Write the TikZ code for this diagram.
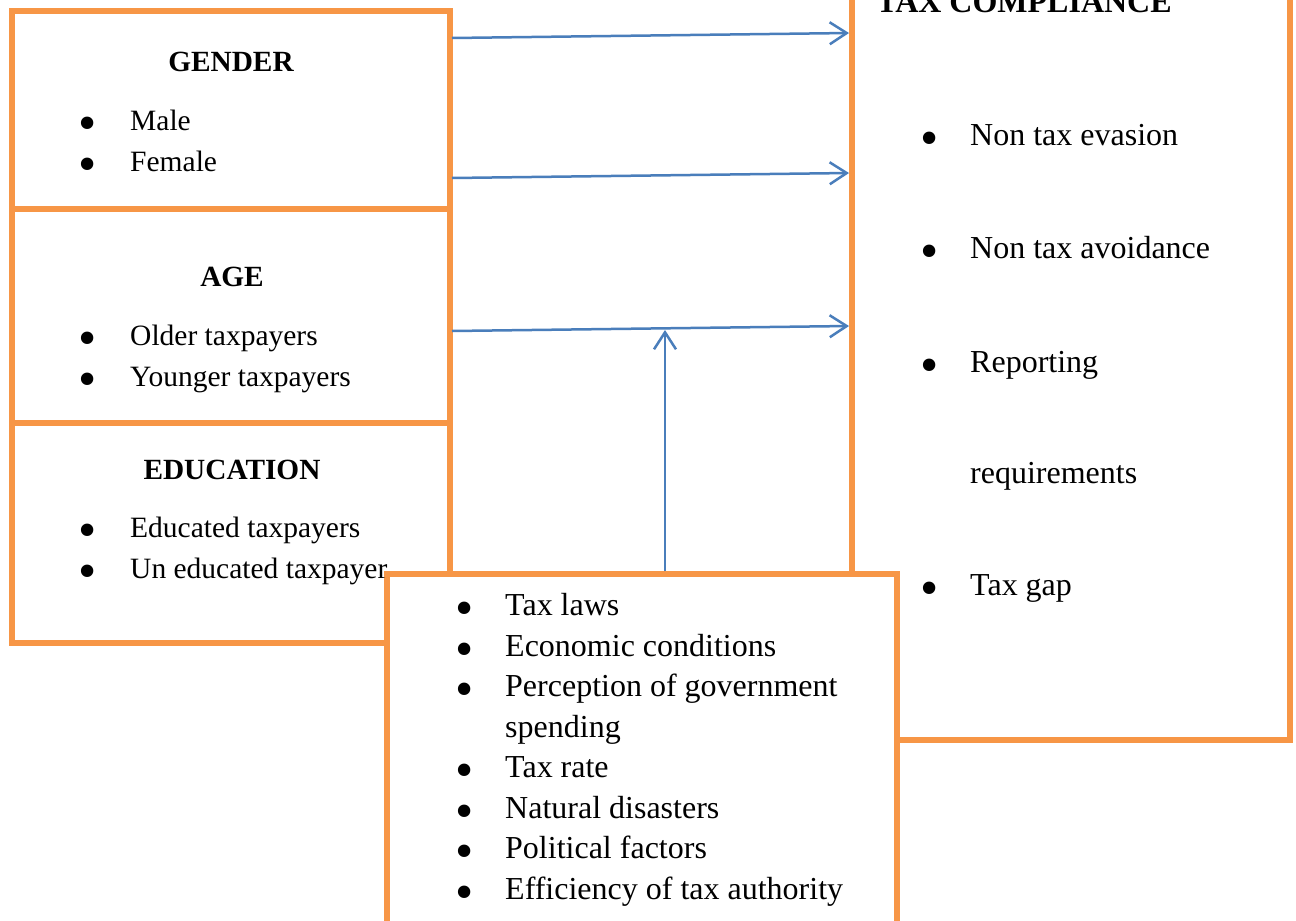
\documentclass[tikz,border=0pt]{standalone}
\usepackage{fontspec}
\setmainfont{Liberation Serif}
\usetikzlibrary{arrows.meta}
\definecolor{boxorange}{HTML}{F79646}
\definecolor{arrowblue}{HTML}{4A7EBB}
\tikzset{
  box/.style={draw=boxorange, line width=5.5pt, fill=white, inner sep=0pt},
  conn/.style={draw=arrowblue, line width=2.5pt, -{Straight Barb[length=17pt,width=22pt,line width=2.5pt]}},
  body/.style={font=\fontsize{32}{40}\selectfont, anchor=base west, inner sep=0pt},
  sbody/.style={font=\fontsize{29.5}{36}\selectfont, anchor=base west, inner sep=0pt},
  bul/.style={font=\fontsize{52}{58}\selectfont, anchor=base, inner sep=0pt, yshift=-10pt},
  head/.style={font=\fontsize{29.3}{36}\selectfont\bfseries, anchor=base, inner sep=0pt},
}
\begin{document}
\begin{tikzpicture}[x=1pt,y=-1pt]
\path[use as bounding box, clip] (0,0) rectangle (1296,921);
\fill[white] (0,0) rectangle (1296,921);
% left boxes
\node[box, minimum width=438pt, minimum height=198pt] (gender) at (231,110) {};
\node[box, minimum width=438pt, minimum height=214pt] (age) at (231,316) {};
\node[box, minimum width=438pt, minimum height=220pt] (educ) at (231,533) {};
% right box
\node[box, minimum width=438pt, minimum height=780pt] (comp) at (1071,350) {};
% arrow coordinates
\coordinate (a1s) at (452,38);  \coordinate (a1e) at (849,33);
\coordinate (a2s) at (452,178); \coordinate (a2e) at (849,173);
\coordinate (a3s) at (452,331); \coordinate (a3e) at (849,326);
\coordinate (v1e) at (665,330);
\draw[conn] (a1s) -- (a1e);
\draw[conn] (a2s) -- (a2e);
\draw[conn] (a3s) -- (a3e);
% bottom box
\node[box, minimum width=510pt, minimum height=380pt] (factors) at (642,764) {};
\draw[conn] (factors.north -| v1e) -- (v1e);
% texts: gender
\node[head] (hg) at (231,71) {GENDER};
\node[bul] (bg1) at (88,130) {•}; \node[sbody] (tg1) at (130,130) {Male};
\node[bul] (bg2) at (88,171) {•}; \node[sbody] (tg2) at (130,171) {Female};
% age
\node[head] (ha) at (232,286) {AGE};
\node[bul] (ba1) at (88,345) {•}; \node[sbody] (ta1) at (130,345) {Older taxpayers};
\node[bul] (ba2) at (88,386) {•}; \node[sbody] (ta2) at (130,386) {Younger taxpayers};
% education
\node[head] (he) at (232,479) {EDUCATION};
\node[bul] (be1) at (88,537) {•}; \node[sbody] (te1) at (130,537) {Educated taxpayers};
\node[bul] (be2) at (88,578) {•}; \node[sbody] (te2) at (130,578) {Un educated taxpayer};
% compliance
\node[font=\fontsize{32}{40}\selectfont\bfseries, anchor=base, inner sep=0pt] (hc) at (1024,12) {TAX COMPLIANCE};
\node[bul] (bc1) at (930,145) {•}; \node[body] (tc1) at (970,145) {Non tax evasion};
\node[bul] (bc2) at (930,258) {•}; \node[body] (tc2) at (970,258) {Non tax avoidance};
\node[bul] (bc3) at (930,372) {•}; \node[body] (tc3) at (970,372) {Reporting};
\node[body] (tc4) at (970,483) {requirements};
\node[bul] (bc5) at (930,595) {•}; \node[body] (tc5) at (970,595) {Tax gap};
% factors
\node[bul] (bf1) at (465,615) {•}; \node[body] (tf1) at (505,615) {Tax laws};
\node[bul] (bf2) at (465,656) {•}; \node[body] (tf2) at (505,656) {Economic conditions};
\node[bul] (bf3) at (465,696) {•}; \node[body] (tf3) at (505,696) {Perception of government};
\node[body] (tf3b) at (505,737) {spending};
\node[bul] (bf4) at (465,777) {•}; \node[body] (tf4) at (505,777) {Tax rate};
\node[bul] (bf5) at (465,818) {•}; \node[body] (tf5) at (505,818) {Natural disasters};
\node[bul] (bf6) at (465,858) {•}; \node[body] (tf6) at (505,858) {Political factors};
\node[bul] (bf7) at (465,899) {•}; \node[body] (tf7) at (505,899) {Efficiency of tax authority};
\end{tikzpicture}
\end{document}
